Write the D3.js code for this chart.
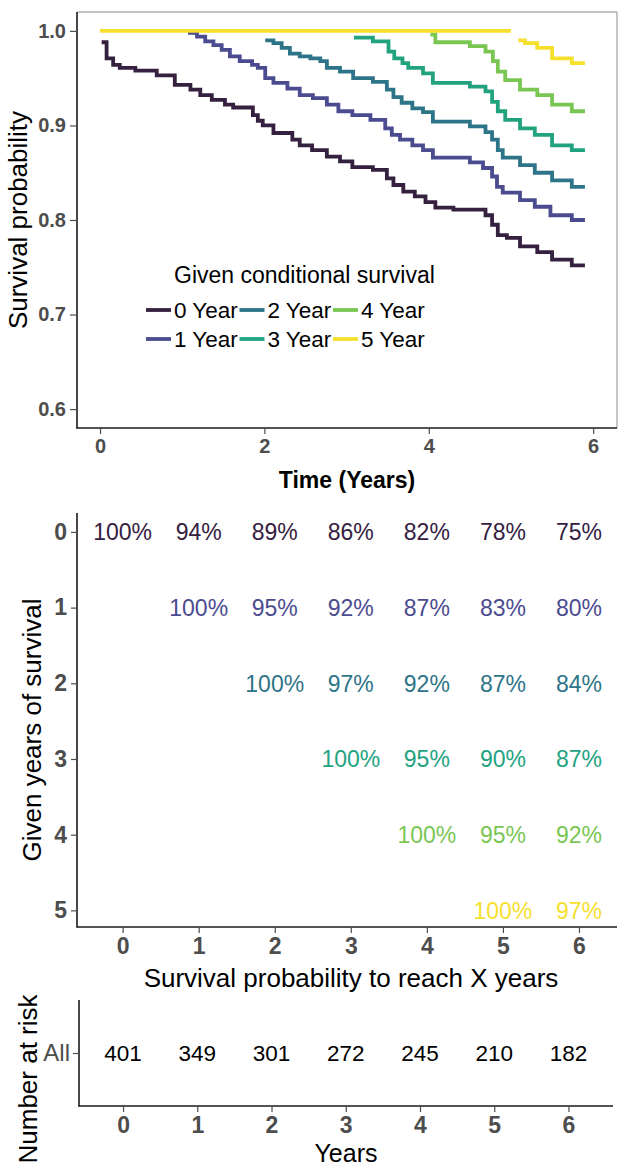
<!DOCTYPE html>
<html>
<head>
<meta charset="utf-8">
<script src="https://cdn.jsdelivr.net/npm/d3@7"></script>
<style>
  body { margin: 0; background: #fff; }
  svg { display: block; font-family: "Liberation Sans", Arial, sans-serif; }
  .tick text { fill: #4d4d4d; font-weight: bold; }
  .tick line { stroke: #4d4d4d; }
</style>
</head>
<body>
<svg width="619" height="1166"></svg>
<script>
// groups and colours
let groups = ['0 Year', '1 Year', '2 Year', '3 Year', '4 Year', '5 Year']
let colors = ['#35203f', '#4b4b8f', '#2e7489', '#22a37f', '#7ac652', '#f5e02e']

// step curves: [time, survival]
let curve0 = [[0.02, 0.988], [0.08, 0.971], [0.16, 0.964], [0.24, 0.961], [0.43, 0.958], [0.69, 0.953],
  [0.91, 0.943], [1.10, 0.938], [1.22, 0.932], [1.36, 0.927], [1.52, 0.922], [1.62, 0.919], [1.86, 0.911],
  [1.92, 0.905], [1.98, 0.900], [2.11, 0.892], [2.34, 0.885], [2.43, 0.879], [2.58, 0.874], [2.76, 0.867],
  [2.92, 0.862], [3.07, 0.856], [3.32, 0.853], [3.49, 0.844], [3.57, 0.837], [3.69, 0.830], [3.83, 0.825],
  [3.96, 0.819], [4.08, 0.813], [4.30, 0.811], [4.69, 0.805], [4.77, 0.795], [4.84, 0.784], [4.95, 0.781],
  [5.11, 0.772], [5.32, 0.766], [5.50, 0.758], [5.74, 0.752], [5.90, 0.752]]
let curve1 = [[1.07, 0.998], [1.18, 0.994], [1.28, 0.989], [1.38, 0.985], [1.48, 0.980], [1.58, 0.973],
  [1.70, 0.968], [1.85, 0.964], [1.92, 0.961], [2.01, 0.950], [2.11, 0.945], [2.28, 0.939], [2.43, 0.932],
  [2.59, 0.929], [2.76, 0.922], [2.90, 0.915], [3.07, 0.911], [3.29, 0.906], [3.47, 0.897], [3.55, 0.890],
  [3.65, 0.885], [3.80, 0.879], [3.93, 0.874], [4.05, 0.866], [4.50, 0.861], [4.66, 0.855], [4.77, 0.846],
  [4.83, 0.835], [4.90, 0.829], [5.11, 0.821], [5.29, 0.814], [5.48, 0.805], [5.74, 0.800], [5.90, 0.800]]
let curve2 = [[2.01, 0.990], [2.11, 0.987], [2.21, 0.982], [2.31, 0.976], [2.43, 0.973], [2.56, 0.971],
  [2.68, 0.968], [2.76, 0.961], [2.92, 0.957], [3.08, 0.950], [3.32, 0.946], [3.49, 0.938], [3.57, 0.930],
  [3.67, 0.924], [3.80, 0.918], [3.93, 0.914], [4.05, 0.904], [4.50, 0.899], [4.69, 0.893], [4.77, 0.885],
  [4.84, 0.874], [4.90, 0.866], [5.11, 0.858], [5.29, 0.850], [5.50, 0.842], [5.74, 0.835], [5.90, 0.835]]
let curve3 = [[3.09, 0.993], [3.32, 0.989], [3.51, 0.978], [3.58, 0.971], [3.68, 0.966], [3.75, 0.961],
  [3.93, 0.955], [4.05, 0.945], [4.50, 0.941], [4.69, 0.936], [4.77, 0.925], [4.84, 0.915], [4.93, 0.906],
  [5.11, 0.897], [5.29, 0.890], [5.50, 0.879], [5.74, 0.874], [5.90, 0.874]]
let curve4 = [[4.02, 0.996], [4.08, 0.988], [4.50, 0.984], [4.69, 0.978], [4.78, 0.968], [4.84, 0.957],
  [4.93, 0.948], [5.11, 0.938], [5.32, 0.932], [5.50, 0.922], [5.74, 0.915], [5.90, 0.915]]
let curve5 = [[0, 1], [5.0, 1], null, [5.09, 0.990], [5.17, 0.987], [5.32, 0.982], [5.50, 0.971],
  [5.74, 0.966], [5.90, 0.966]]
let curves = [curve0, curve1, curve2, curve3, curve4, curve5]

let timeTicks = [0, 2, 4, 6]
let probTicks = [0.6, 0.7, 0.8, 0.9, 1.0]

// conditional survival table (%), one row per given year
let condYears = [0, 1, 2, 3, 4, 5]
let reachYears = [0, 1, 2, 3, 4, 5, 6]
let prob0 = [100, 94, 89, 86, 82, 78, 75]
let prob1 = [100, 95, 92, 87, 83, 80]
let prob2 = [100, 97, 92, 87, 84]
let prob3 = [100, 95, 90, 87]
let prob4 = [100, 95, 92]
let prob5 = [100, 97]
let probRows = [prob0, prob1, prob2, prob3, prob4, prob5]

// number at risk
let atRisk = [401, 349, 301, 272, 245, 210, 182]

let svg = d3.select('svg')

function axisLines(left, right, top, bottom) {
  svg.append('line').attr('x1', left).attr('x2', left).attr('y1', top).attr('y2', bottom + 0.5)
    .attr('stroke', '#1a1a1a').attr('stroke-width', 1.6)
  svg.append('line').attr('x1', left - 0.5).attr('x2', right).attr('y1', bottom).attr('y2', bottom)
    .attr('stroke', '#1a1a1a').attr('stroke-width', 1.6)
}

function styleAxis(g, size) {
  g.select('.domain').remove()
  g.selectAll('.tick text').style('font-size', size + 'px')
  g.selectAll('.tick line').attr('stroke-width', 1.2)
}

// ---------- top: survival curves ----------
let x = d3.scaleLinear().domain([-0.28, 6.29]).range([77, 617])
let y = d3.scaleLinear().domain([0.58, 1.02]).range([428, 12])

svg.append('path')
  .attr('d', `M77,12H617V428`)
  .attr('fill', 'none').attr('stroke', '#8c8c8c').attr('stroke-width', 1)

let line = d3.line()
  .defined(d => d)
  .x(d => x(d[0]))
  .y(d => y(d[1]))
  .curve(d3.curveStepAfter)

svg.selectAll('path.curve')
  .data(curves)
  .enter()
  .append('path')
  .attr('class', 'curve')
  .attr('d', line)
  .attr('fill', 'none')
  .attr('stroke', (d, i) => colors[i])
  .attr('stroke-width', 3.8)

axisLines(77, 617, 12, 428)

svg.append('g').attr('transform', 'translate(77,0)')
  .call(d3.axisLeft(y).tickValues(probTicks).tickFormat(d3.format('.1f')).tickSize(7).tickPadding(4))
  .call(styleAxis, 20)
svg.append('g').attr('transform', 'translate(0,428)')
  .call(d3.axisBottom(x).tickValues(timeTicks).tickFormat(d3.format('d')).tickSize(6).tickPadding(5))
  .call(styleAxis, 20)

svg.append('text').attr('transform', 'translate(27,220) rotate(-90)')
  .attr('text-anchor', 'middle').style('font-size', '26px').text('Survival probability')
svg.append('text').attr('x', 347).attr('y', 488)
  .attr('text-anchor', 'middle').style('font-size', '23px').style('font-weight', 'bold').text('Time (Years)')

// legend
let legend = svg.append('g').attr('class', 'legend')
legend.append('text').attr('x', 174).attr('y', 283).style('font-size', '23px').text('Given conditional survival')
let item = legend.selectAll('g.item')
  .data(groups)
  .enter()
  .append('g')
  .attr('class', 'item')
  .attr('transform', (d, i) => `translate(${146 + Math.floor(i / 2) * 93.5},${i % 2 ? 339 : 310})`)
item.append('line').attr('x1', 0).attr('x2', 25).attr('stroke', (d, i) => colors[i]).attr('stroke-width', 3.8)
item.append('text').attr('x', 28).attr('y', 8).style('font-size', '22.5px').text(d => d)

// ---------- middle: conditional survival table ----------
let x2 = d3.scaleLinear().domain([-0.6, 6.5]).range([77, 617])
let y2 = d3.scaleLinear().domain([-0.25, 5.22]).range([513, 927])

let cells = []
probRows.forEach((row, r) => row.forEach((v, k) => cells.push({ given: condYears[r], reach: r + k, v: v })))

svg.selectAll('text.cell')
  .data(cells)
  .enter()
  .append('text')
  .attr('class', 'cell')
  .attr('x', d => x2(d.reach))
  .attr('y', d => y2(d.given))
  .attr('dy', '0.36em')
  .attr('text-anchor', 'middle')
  .attr('fill', d => colors[d.given])
  .style('font-size', '23px')
  .text(d => d.v + '%')

axisLines(77, 617, 513, 927)
svg.append('g').attr('transform', 'translate(77,0)')
  .call(d3.axisLeft(y2).tickValues(condYears).tickFormat(d3.format('d')).tickSize(6).tickPadding(4))
  .call(styleAxis, 23)
svg.append('g').attr('transform', 'translate(0,927)')
  .call(d3.axisBottom(x2).tickValues(reachYears).tickFormat(d3.format('d')).tickSize(6).tickPadding(5))
  .call(styleAxis, 23)

svg.append('text').attr('transform', 'translate(41,730) rotate(-90)')
  .attr('text-anchor', 'middle').style('font-size', '26px').text('Given years of survival')
svg.append('text').attr('x', 351).attr('y', 987)
  .attr('text-anchor', 'middle').style('font-size', '26px').text('Survival probability to reach X years')

// ---------- bottom: number at risk ----------
let x3 = d3.scaleLinear().domain([-0.6, 6.6]).range([78.5, 613])
let y3 = d3.scalePoint().domain(['All']).range([1000, 1106]).padding(0.5)

svg.selectAll('text.risk')
  .data(atRisk)
  .enter()
  .append('text')
  .attr('class', 'risk')
  .attr('x', (d, i) => x3(reachYears[i]))
  .attr('y', y3('All'))
  .attr('dy', '0.36em')
  .attr('text-anchor', 'middle')
  .style('font-size', '22.5px')
  .text(d => d)

axisLines(79, 613, 1000, 1106)
svg.append('g').attr('transform', 'translate(79,0)')
  .call(d3.axisLeft(y3).tickSize(6).tickPadding(3))
  .call(styleAxis, 24)
  .selectAll('.tick text').style('font-weight', 'normal')
svg.append('g').attr('transform', 'translate(0,1106)')
  .call(d3.axisBottom(x3).tickValues(reachYears).tickFormat(d3.format('d')).tickSize(6).tickPadding(5))
  .call(styleAxis, 23)

svg.append('text').attr('transform', 'translate(37,1079) rotate(-90)')
  .attr('text-anchor', 'middle').style('font-size', '26px').text('Number at risk')
svg.append('text').attr('x', 346).attr('y', 1162)
  .attr('text-anchor', 'middle').style('font-size', '25px').text('Years')
</script>
</body>
</html>
